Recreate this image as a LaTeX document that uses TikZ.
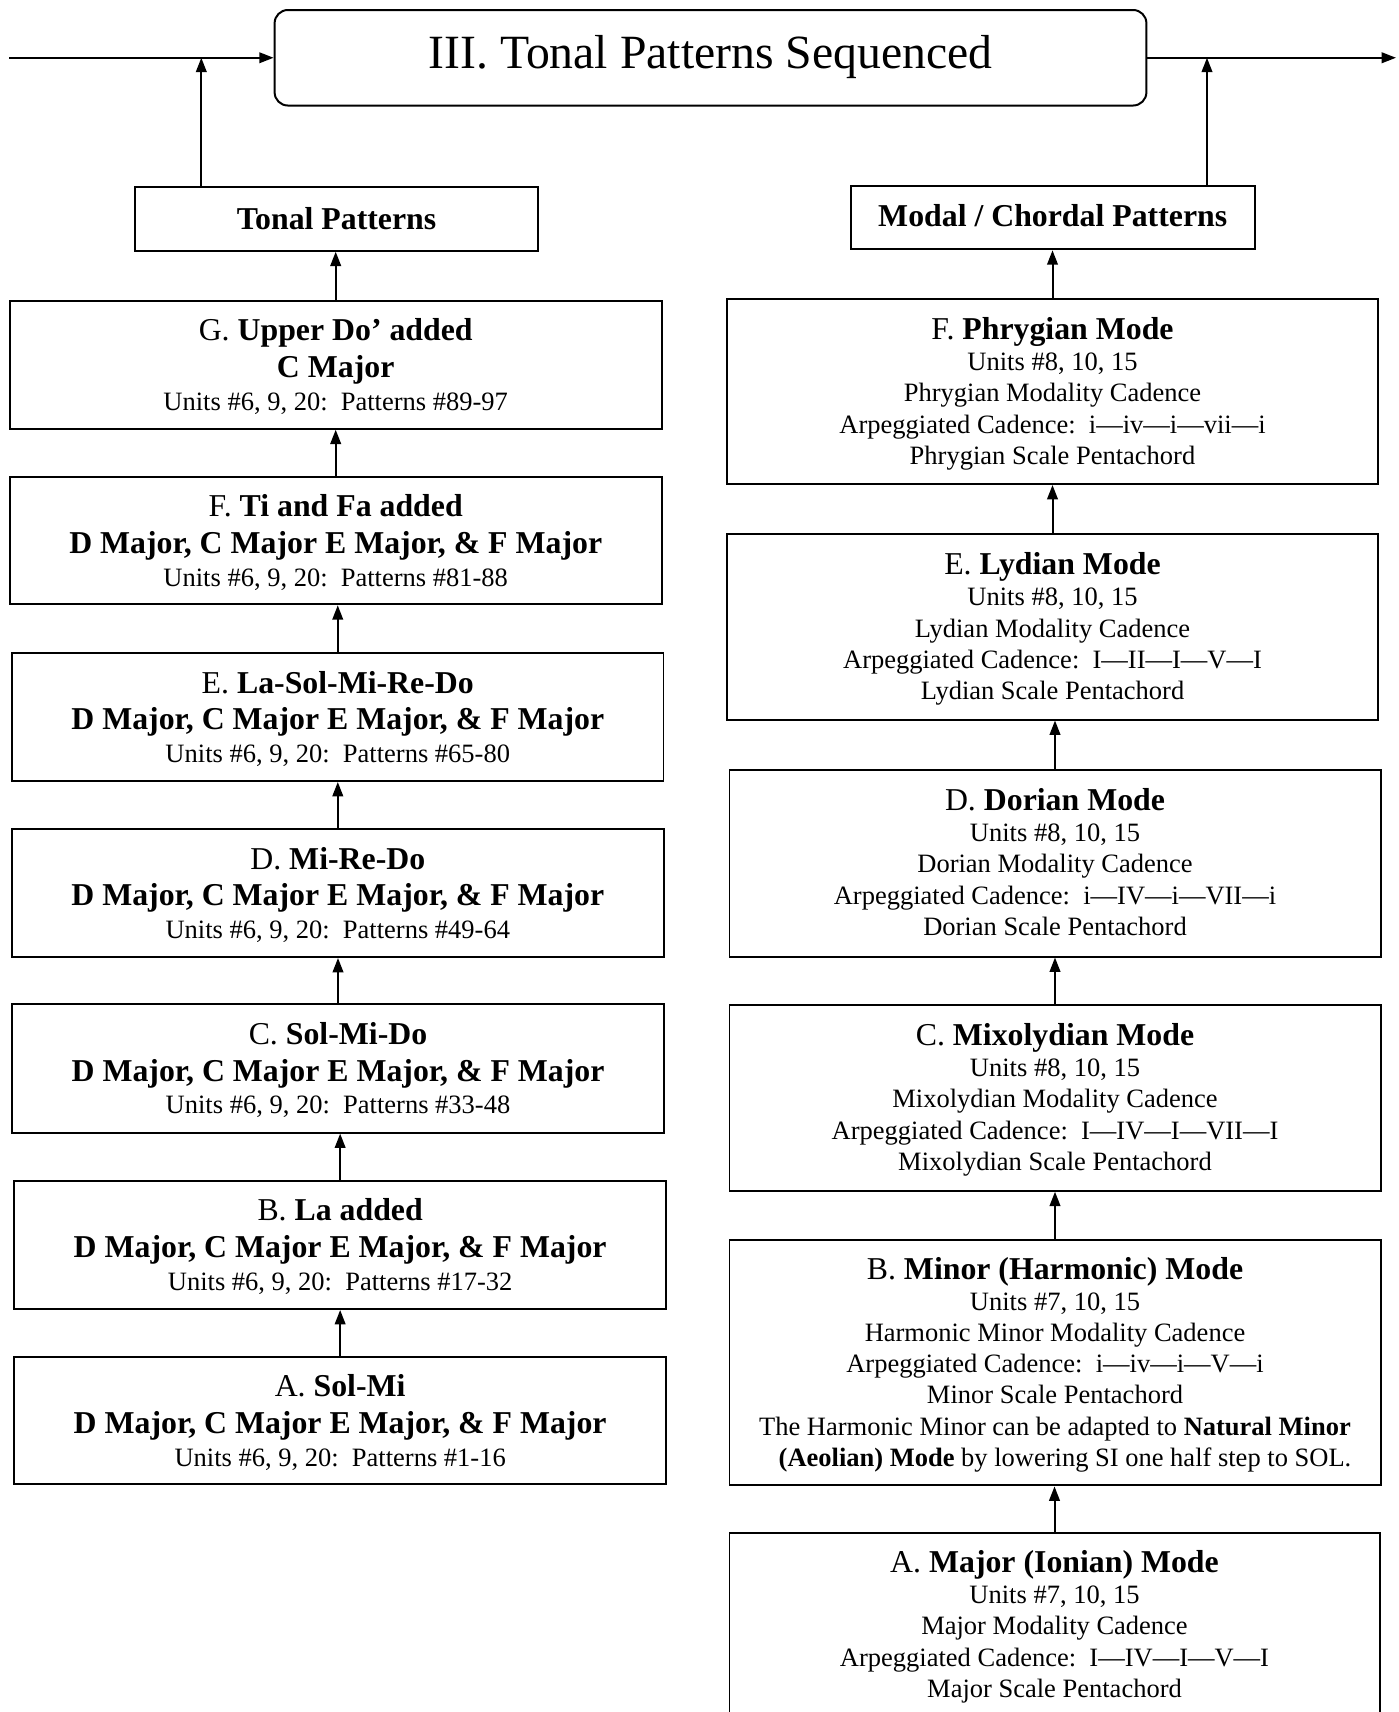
\documentclass[tikz,border=0pt]{standalone}
\usepackage{fontspec}
\setmainfont{Liberation Serif}
\usetikzlibrary{arrows.meta,calc}
\def\pxu{0.4528pt}
\tikzset{
  x=0.4528pt, y=-0.4528pt,
  box/.style={draw, line width=0.9pt, rectangle, inner sep=0pt},
  ln/.style={anchor=base, inner sep=0pt, yshift=-0.9pt, font=\fontsize{12}{14}\selectfont},
  hd/.style={anchor=base, inner sep=0pt, yshift=-0.9pt, font=\fontsize{14.4}{17}\selectfont},
  conn/.style={line width=0.9pt, -{Triangle[length=6.5pt,width=4.8pt]}},
}
\newcommand\mybox[5]{\node[box, minimum width={(#4-#2)*\pxu}, minimum height={(#5-#3)*\pxu}] (#1) at ({(#2+#4)/2},{(#3+#5)/2}) {};}
\begin{document}
\begin{tikzpicture}
\useasboundingbox (0,0) rectangle (1398,1712);
\clip (0,0) rectangle (1398,1712);

% title
\node[draw, line width=0.9pt, rounded corners=6pt, inner sep=0pt,
      minimum width={(1146.4-274.6)*\pxu}, minimum height={(105.5-10)*\pxu}]
      (title) at ({(274.6+1146.4)/2},{(10+105.5)/2}) {};
\node[anchor=base, inner sep=0pt, font=\fontsize{21.6}{26}\selectfont] (titletext) at ($(title.north)+(0,59.5)$) {III. Tonal Patterns Sequenced};

\coordinate (lin) at (9,57.75);
\coordinate (rout) at (1396,57.75);
\draw[conn] (lin) -- (title.west);
\draw[conn] (title.east) -- (rout);

% left column
\mybox{tonal}{135.3}{187.3}{537.9}{250.7}
\node[hd] (tonaltext) at ($(tonal.north)+(0,41)$) {\textbf{Tonal Patterns}};

\mybox{lG}{9.8}{300.7}{661.6}{428.7}
\mybox{lF}{9.8}{476.7}{661.6}{604.3}
\mybox{lE}{12}{653}{663.5}{781}
\mybox{lD}{11.6}{829}{664}{957}
\mybox{lC}{12}{1004.3}{664}{1132.6}
\mybox{lB}{14.3}{1180.7}{666}{1309}
\mybox{lA}{14.3}{1356.7}{666}{1484.3}

\node[hd] (lG1) at ($(lG.north)+(0,39)$) {G. \textbf{Upper Do’ added}};
\node[hd] (lG2) at ($(lG.north)+(0,75.7)$) {\textbf{C Major}};
\node[ln] (lG3) at ($(lG.north)+(0,108.5)$) {Units \#6, 9, 20:\ \ Patterns \#89-97};

\node[hd] (lF1) at ($(lF.north)+(0,39)$) {F. \textbf{Ti and Fa added}};
\node[hd] (lF2) at ($(lF.north)+(0,75.7)$) {\textbf{D Major, C Major E Major, \& F Major}};
\node[ln] (lF3) at ($(lF.north)+(0,108.5)$) {Units \#6, 9, 20:\ \ Patterns \#81-88};

\node[hd] (lE1) at ($(lE.north)+(0,39)$) {E. \textbf{La-Sol-Mi-Re-Do}};
\node[hd] (lE2) at ($(lE.north)+(0,75.7)$) {\textbf{D Major, C Major E Major, \& F Major}};
\node[ln] (lE3) at ($(lE.north)+(0,108.5)$) {Units \#6, 9, 20:\ \ Patterns \#65-80};

\node[hd] (lD1) at ($(lD.north)+(0,39)$) {D. \textbf{Mi-Re-Do}};
\node[hd] (lD2) at ($(lD.north)+(0,75.7)$) {\textbf{D Major, C Major E Major, \& F Major}};
\node[ln] (lD3) at ($(lD.north)+(0,108.5)$) {Units \#6, 9, 20:\ \ Patterns \#49-64};

\node[hd] (lC1) at ($(lC.north)+(0,39)$) {C. \textbf{Sol-Mi-Do}};
\node[hd] (lC2) at ($(lC.north)+(0,75.7)$) {\textbf{D Major, C Major E Major, \& F Major}};
\node[ln] (lC3) at ($(lC.north)+(0,108.5)$) {Units \#6, 9, 20:\ \ Patterns \#33-48};

\node[hd] (lB1) at ($(lB.north)+(0,39)$) {B. \textbf{La added}};
\node[hd] (lB2) at ($(lB.north)+(0,75.7)$) {\textbf{D Major, C Major E Major, \& F Major}};
\node[ln] (lB3) at ($(lB.north)+(0,108.5)$) {Units \#6, 9, 20:\ \ Patterns \#17-32};

\node[hd] (lA1) at ($(lA.north)+(0,39)$) {A. \textbf{Sol-Mi}};
\node[hd] (lA2) at ($(lA.north)+(0,75.7)$) {\textbf{D Major, C Major E Major, \& F Major}};
\node[ln] (lA3) at ($(lA.north)+(0,108.5)$) {Units \#6, 9, 20:\ \ Patterns \#1-16};

\coordinate (tl) at ($(tonal.north west)+(67,0)$);
\draw[conn] (tl) -- (tl |- title.west);
\draw[conn] (lG.north) -- (lG.north |- tonal.south);
\draw[conn] (lF.north) -- (lF.north |- lG.south);
\draw[conn] (lE.north) -- (lE.north |- lF.south);
\draw[conn] (lD.north) -- (lD.north |- lE.south);
\draw[conn] (lC.north) -- (lC.north |- lD.south);
\draw[conn] (lB.north) -- (lB.north |- lC.south);
\draw[conn] (lA.north) -- (lA.north |- lB.south);

% right column
\mybox{modal}{850.9}{185.7}{1254.5}{249.3}
\node[hd] (modaltext) at ($(modal.north)+(0,39.3)$) {\textbf{Modal / Chordal Patterns}};

\mybox{rF}{727.3}{299}{1377.7}{484}
\mybox{rE}{727.3}{534.3}{1377.7}{719.5}
\mybox{rD}{729.5}{770}{1380.5}{956.5}
\mybox{rC}{729.5}{1005}{1380.5}{1190.7}
\mybox{rB}{729.5}{1240}{1380.5}{1485.4}
\mybox{rA}{729.5}{1532.7}{1379.5}{1760}

\node[hd] (rF1) at ($(rF.north)+(0,39.3)$) {F. \textbf{Phrygian Mode}};
\node[ln] (rF2) at ($(rF.north)+(0,70.6)$) {Units \#8, 10, 15};
\node[ln] (rF3) at ($(rF.north)+(0,101.9)$) {Phrygian Modality Cadence};
\node[ln] (rF4) at ($(rF.north)+(0,133.2)$) {Arpeggiated Cadence:\ \ i—iv—i—vii—i};
\node[ln] (rF5) at ($(rF.north)+(0,164.5)$) {Phrygian Scale Pentachord};

\node[hd] (rE1) at ($(rE.north)+(0,39.3)$) {E. \textbf{Lydian Mode}};
\node[ln] (rE2) at ($(rE.north)+(0,70.6)$) {Units \#8, 10, 15};
\node[ln] (rE3) at ($(rE.north)+(0,101.9)$) {Lydian Modality Cadence};
\node[ln] (rE4) at ($(rE.north)+(0,133.2)$) {Arpeggiated Cadence:\ \ I—II—I—V—I};
\node[ln] (rE5) at ($(rE.north)+(0,164.5)$) {Lydian Scale Pentachord};

\node[hd] (rD1) at ($(rD.north)+(0,39.3)$) {D. \textbf{Dorian Mode}};
\node[ln] (rD2) at ($(rD.north)+(0,70.6)$) {Units \#8, 10, 15};
\node[ln] (rD3) at ($(rD.north)+(0,101.9)$) {Dorian Modality Cadence};
\node[ln] (rD4) at ($(rD.north)+(0,133.2)$) {Arpeggiated Cadence:\ \ i—IV—i—VII—i};
\node[ln] (rD5) at ($(rD.north)+(0,164.5)$) {Dorian Scale Pentachord};

\node[hd] (rC1) at ($(rC.north)+(0,39.3)$) {C. \textbf{Mixolydian Mode}};
\node[ln] (rC2) at ($(rC.north)+(0,70.6)$) {Units \#8, 10, 15};
\node[ln] (rC3) at ($(rC.north)+(0,101.9)$) {Mixolydian Modality Cadence};
\node[ln] (rC4) at ($(rC.north)+(0,133.2)$) {Arpeggiated Cadence:\ \ I—IV—I—VII—I};
\node[ln] (rC5) at ($(rC.north)+(0,164.5)$) {Mixolydian Scale Pentachord};

\node[hd] (rB1) at ($(rB.north)+(0,38.5)$) {B. \textbf{Minor (Harmonic) Mode}};
\node[ln] (rB2) at ($(rB.north)+(0,69.6)$) {Units \#7, 10, 15};
\node[ln] (rB3) at ($(rB.north)+(0,100.7)$) {Harmonic Minor Modality Cadence};
\node[ln] (rB4) at ($(rB.north)+(0,131.8)$) {Arpeggiated Cadence:\ \ i—iv—i—V—i};
\node[ln] (rB5) at ($(rB.north)+(0,162.9)$) {Minor Scale Pentachord};
\node[ln] (rB6) at ($(rB.north)+(0,194)$) {The Harmonic Minor can be adapted to \textbf{Natural Minor}};
\node[ln] (rB7) at ($(rB.north)+(10,225.1)$) {\textbf{(Aeolian) Mode} by lowering SI one half step to SOL.};

\node[hd] (rA1) at ($(rA.north)+(0,39)$) {A. \textbf{Major (Ionian) Mode}};
\node[ln] (rA2) at ($(rA.north)+(0,70.1)$) {Units \#7, 10, 15};
\node[ln] (rA3) at ($(rA.north)+(0,101.2)$) {Major Modality Cadence};
\node[ln] (rA4) at ($(rA.north)+(0,132.3)$) {Arpeggiated Cadence:\ \ I—IV—I—V—I};
\node[ln] (rA5) at ($(rA.north)+(0,163.4)$) {Major Scale Pentachord};

\coordinate (mr) at ($(modal.north east)+(-48.5,0)$);
\draw[conn] (mr) -- (mr |- title.east);
\draw[conn] (rF.north) -- (rF.north |- modal.south);
\draw[conn] (rE.north) -- (rE.north |- rF.south);
\draw[conn] (rD.north) -- (rD.north |- rE.south);
\draw[conn] (rC.north) -- (rC.north |- rD.south);
\draw[conn] (rB.north) -- (rB.north |- rC.south);
\draw[conn] (rA.north) -- (rA.north |- rB.south);
\end{tikzpicture}
\end{document}
